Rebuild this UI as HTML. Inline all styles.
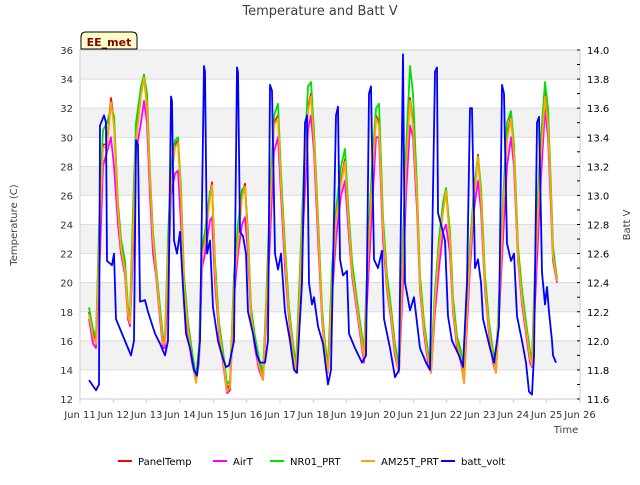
<!DOCTYPE html>
<html><head><meta charset="utf-8"><style>
body{margin:0;background:#fff}
svg{font-family:"DejaVu Sans","Liberation Sans",sans-serif}
</style></head><body>
<svg id="chart" width="640" height="480" xmlns="http://www.w3.org/2000/svg">
<text x="320" y="15" text-anchor="middle" font-size="13" fill="#404040">Temperature and Batt V</text>
<g id="bands"></g>
<g id="axes"></g>
<g id="series"></g>
<g>
<path d="M81,49 L81,37 Q81,32 86,32 L132,32 Q137,32 137,37 L137,49 Z" fill="#ffffcc" stroke="#000" stroke-width="1"/>
<text x="109" y="46" text-anchor="middle" font-size="11" font-weight="bold" fill="#8b0000">EE_met</text>
</g>
<text transform="translate(17,225) rotate(-90)" text-anchor="middle" font-size="10" fill="#404040">Temperature (C)</text>
<text transform="translate(630,225) rotate(-90)" text-anchor="middle" font-size="10" fill="#404040">Batt V</text>
<text x="566" y="433" text-anchor="middle" font-size="10" fill="#404040">Time</text>
<g id="legend"></g>
</svg>
<script>
const dayLabels=["Jun 11","Jun 12","Jun 13","Jun 14","Jun 15","Jun 16","Jun 17","Jun 18","Jun 19","Jun 20","Jun 21","Jun 22","Jun 23","Jun 24","Jun 25","Jun 26"];
const tempTicks=[12,14,16,18,20,22,24,26,28,30,32,34,36];
const voltTicks=[11.6,11.8,12.0,12.2,12.4,12.6,12.8,13.0,13.2,13.4,13.6,13.8,14.0];
const tempTimes=[0.27,0.39,0.48,0.60,0.69,0.81,0.93,1.02,1.14,1.23,1.35,1.44,1.50,
1.59,1.68,1.83,1.92,2.01,2.10,2.19,2.28,2.40,2.49,2.55,
2.64,2.73,2.85,2.94,3.03,3.12,3.24,3.36,3.48,3.57,
3.66,3.75,3.90,3.96,4.05,4.17,4.29,4.41,4.50,
4.62,4.74,4.86,4.95,5.04,5.13,5.25,5.37,5.49,
5.58,5.70,5.82,5.94,6.03,6.15,6.27,6.39,6.48,
6.60,6.72,6.84,6.93,7.02,7.14,7.26,7.35,7.44,
7.56,7.68,7.83,7.95,8.04,8.16,8.31,8.46,8.52,
8.64,8.76,8.88,8.97,9.09,9.21,9.33,9.45,9.57,
9.69,9.78,9.90,9.99,10.11,10.20,10.32,10.44,10.53,
10.65,10.77,10.89,10.98,11.10,11.19,11.31,11.43,11.52,
11.61,11.70,11.82,11.94,12.03,12.15,12.27,12.39,12.48,
12.60,12.69,12.81,12.93,13.02,13.14,13.26,13.38,13.50,13.56,
13.68,13.80,13.95,14.04,14.13,14.19,14.31];
const panelTemp=[18,16.5,16,25,29.5,29.5,32.7,31,25,22.5,21,18,17.5,
24,30,33,34.3,32,27,23,21,18,16,16,
22,27,29.5,29.8,26,20,17,15,13.3,15,
22,23,26,26.9,21,17,15,12.7,13,
20,23,26,26.8,23,18,16,14.5,13.5,
18,25,31,31.5,27,22,18,15.5,14,
20,27,32,33,30,24,18,15.5,14,
20,24.5,27,28.5,25,21,18.5,16,15,
22,27,31.5,31,24,20,18,15.5,14,
22,28,32.7,31,26,20,17,15,14,
19,22.5,25,26.5,23,18.5,16,15,13.3,
18,22,26,28.8,26,20,17,15,14,
20,25,30,31.5,29,22,19,17,15,14.5,
22,28,33,31,26,22,20.3];
const airT=[17.5,15.8,15.5,22,28,29,30,28,24,22,20.5,17.5,17,
22,29,31,32.5,31,26,22,20.5,17.5,15.5,15.5,
20,26,27.5,27.7,24,19,16.5,14.5,13.2,14.5,
21,22,24.3,24.5,20,16.5,14.5,12.4,12.6,
19,22,24,24.5,22,17.5,15.5,14,13.3,
17,23,29,30,26,21,17.5,15,13.8,
19,25,30.5,31.5,29,23,17.5,15,13.8,
19,23,26,27,24,20.5,18,15.5,14.5,
20,25,30,30,23,19.5,17.5,15,13.8,
20,26,30.8,30,25,19.5,16.5,14.5,13.8,
18,21,23.5,24,22,18,15.5,14.5,13.1,
17,21,25,27,25,19.5,16.5,14.5,13.8,
19,23,28,30,28,21.5,18.5,16.5,14.5,14.2,
20,26,32,30,25,21.5,20];
const nr01=[18.3,16.8,16.3,26,30.5,31,32,31.5,25.5,23,21.5,18.3,17.8,
25,31,33.5,34.3,33,27.5,23.5,21.2,18.3,16.3,16.2,
23,28,29.8,30,26.5,20.5,17.3,15.3,13.5,15.5,
22.5,23.5,26.3,26.5,21.5,17.3,15.3,13,13.3,
20.5,24,26.4,26.6,23.5,18.3,16.3,14.8,13.8,
18.5,26,31.5,32.3,27.5,22.5,18.3,15.8,14.3,
21,28,33.5,33.8,30.5,24.5,18.3,15.8,14.3,
21,25,28,29.2,25.5,21.5,18.8,16.3,15.3,
22.5,28,32,32.3,24.5,20.5,18.3,15.8,14.3,
23,29,34.9,33,26.5,20.5,17.3,15.3,14.3,
19.5,23,25.5,26.5,23.5,19,16.3,15.3,13.6,
18.5,22.5,26.5,28.7,26.5,20.5,17.3,15.3,14.3,
20.5,25.5,31,31.8,29.5,22.5,19.5,17.3,15.3,14.8,
23,29,33.8,32,26.5,22.5,20.2];
const am25t=[17.8,16.3,15.8,24.5,29.3,29.3,32.4,30.8,25,22.4,20.8,17.8,17.2,
23.5,29.8,32.8,34.1,32,27,23,20.8,17.8,15.8,15.8,
21.8,26.8,29.3,29.6,25.8,19.8,16.8,14.8,13.1,14.8,
21.8,22.8,25.8,26.7,20.8,16.8,14.8,12.5,12.8,
19.8,22.8,25.8,26.6,22.8,17.8,15.8,14.3,13.3,
17.8,24.8,30.8,31.3,26.8,21.8,17.8,15.3,13.8,
19.8,26.8,31.8,32.8,29.8,23.8,17.8,15.3,13.8,
19.8,24.3,26.8,28.3,24.8,20.8,18.3,15.8,14.8,
21.8,26.8,31.3,30.8,23.8,19.8,17.8,15.3,13.8,
21.8,27.8,32.5,30.8,25.8,19.8,16.8,14.8,13.8,
18.8,22.3,24.8,26.3,22.8,18.3,15.8,14.8,13.1,
17.8,21.8,25.8,28.6,25.8,19.8,16.8,14.8,13.8,
19.8,24.8,29.8,31.3,28.8,21.8,18.8,16.8,14.8,14.3,
21.8,27.8,32.8,30.8,25.8,21.8,20.1];
const voltTimes=[0.27,0.48,0.57,0.60,0.72,0.78,0.81,0.96,1.02,1.08,1.26,1.44,1.53,1.62,1.68,1.74,1.80,1.95,2.04,2.25,2.40,2.55,2.64,2.73,2.76,2.82,2.91,3.00,3.09,3.18,3.30,3.42,3.51,3.60,3.72,3.75,3.81,3.90,3.99,4.14,4.26,4.38,4.47,4.62,4.71,4.74,4.80,4.89,4.98,5.04,5.19,5.31,5.40,5.55,5.64,5.70,5.76,5.85,5.94,6.03,6.15,6.30,6.42,6.51,6.66,6.75,6.81,6.87,6.96,7.02,7.14,7.29,7.44,7.53,7.68,7.74,7.80,7.89,8.01,8.07,8.25,8.46,8.58,8.67,8.73,8.82,8.94,9.06,9.12,9.30,9.45,9.57,9.69,9.75,9.90,10.02,10.20,10.38,10.50,10.65,10.71,10.74,10.83,10.95,11.04,11.16,11.37,11.49,11.61,11.70,11.76,11.85,11.94,12.03,12.09,12.30,12.42,12.57,12.66,12.72,12.81,12.93,13.02,13.11,13.26,13.38,13.47,13.56,13.62,13.71,13.77,13.86,13.95,14.01,14.07,14.16,14.19,14.28];
const battVolt=[11.73,11.66,11.7,13.48,13.55,13.5,12.55,12.52,12.6,12.15,12.05,11.95,11.9,12.0,13.38,13.35,12.27,12.28,12.2,12.05,11.98,11.9,12.0,13.68,13.65,12.69,12.6,12.75,12.37,12.05,11.95,11.8,11.76,12.0,13.89,13.85,12.6,12.69,12.23,12.0,11.9,11.82,11.83,12.0,13.88,13.85,12.75,12.72,12.6,12.2,12.05,11.9,11.85,11.85,12.0,13.76,13.72,12.6,12.49,12.6,12.2,12.0,11.8,11.78,12.4,13.5,13.55,12.4,12.25,12.3,12.1,11.98,11.7,11.8,13.55,13.61,12.56,12.45,12.48,12.05,11.95,11.85,11.9,13.7,13.75,12.56,12.5,12.62,12.15,11.95,11.75,11.8,13.97,12.4,12.21,12.3,11.95,11.85,11.8,13.85,13.88,12.88,12.8,12.69,12.17,12.0,11.9,11.82,12.4,13.6,13.6,12.5,12.56,12.4,12.15,11.95,11.85,12.1,13.76,13.7,12.67,12.55,12.6,12.17,12.0,11.85,11.65,11.63,11.9,13.5,13.54,12.47,12.25,12.37,12.2,12.0,11.9,11.85];

const NS="http://www.w3.org/2000/svg";
const L=80,R=580,T=50,B=399;
const xS=d=>L+(R-L)*d/15;
const yT=v=>B-(B-T)*(v-12)/24;
const yV=v=>B-(B-T)*(v-11.6)/2.4;
function mk(tag,attrs,parent){const e=document.createElementNS(NS,tag);for(const k in attrs)e.setAttribute(k,attrs[k]);parent.appendChild(e);return e;}
const bands=document.getElementById('bands');
const bg=mk('rect',{x:L,y:T,width:R-L,height:B-T,fill:'#ffffff'},bands);
for(let i=0;i<tempTicks.length-1;i++){
  if(i%2===1){const r=mk('rect',{x:L,y:yT(tempTicks[i+1]),width:R-L,height:yT(tempTicks[i])-yT(tempTicks[i+1]),fill:'#f2f2f2'},bands);
  
  }
}
const axes=document.getElementById('axes');
tempTicks.forEach(v=>{
  const g=mk('line',{x1:L,x2:R,y1:yT(v),y2:yT(v),stroke:'#dcdcdc','stroke-width':1},axes);
  
  
  const t=mk('text',{x:73,y:yT(v)+4,'text-anchor':'end','font-size':10,fill:'#333'},axes);
  t.textContent=v;
  
  
});
mk('rect',{x:L,y:T,width:R-L,height:B-T,fill:'none',stroke:'#cccccc','stroke-width':1},axes);
voltTicks.forEach(v=>{
  const t=mk('text',{x:587,y:yV(v)+4,'text-anchor':'start','font-size':10,fill:'#000'},axes);
  t.textContent=v.toFixed(1);
  
  
});
for(let i=0;i<=24;i++){const v=11.6+i*0.1;mk('line',{x1:577,x2:580,y1:yV(v),y2:yV(v),stroke:'#000','stroke-width':1},axes);}
dayLabels.forEach((s,i)=>{
  mk('line',{x1:xS(i),x2:xS(i),y1:B,y2:B+4,stroke:'#ccc'},axes);
  const t=mk('text',{x:xS(i),y:418,'text-anchor':'middle','font-size':10,fill:'#333'},axes);
  t.textContent=s;
  
  
});
const ser=document.getElementById('series');
function line(times,vals,ys,color,name){
  const d=times.map((t,i)=>(i?'L':'M')+xS(t).toFixed(1)+','+ys(vals[i]).toFixed(1)).join(' ');
  const p=mk('path',{d:d,fill:'none',stroke:color,'stroke-width':1.8,'stroke-linejoin':'round'},ser);
  
  
}
line(tempTimes,panelTemp,yT,'#ff0000','panel-temp-line');
line(tempTimes,airT,yT,'#ff00ff','air-t-line');
line(tempTimes,nr01,yT,'#00e000','nr01-prt-line');
line(tempTimes,am25t,yT,'#ffa500','am25t-prt-line');
line(voltTimes,battVolt,yV,'#0000ff','batt-volt-line');
const leg=document.getElementById('legend');
const items=[["PanelTemp","#ff0000",118],["AirT","#ff00ff",213],["NR01_PRT","#00e000",270],["AM25T_PRT","#ffa500",361],["batt_volt","#0000ff",441]];
items.forEach(it=>{
  const g=mk('g',{},leg);
  
  
  mk('line',{x1:it[2],x2:it[2]+14,y1:461,y2:461,stroke:it[1],'stroke-width':2},g);
  const t=mk('text',{x:it[2]+20,y:465,'font-size':10,fill:'#000'},g);
  t.textContent=it[0];
});
</script>
</body></html>
